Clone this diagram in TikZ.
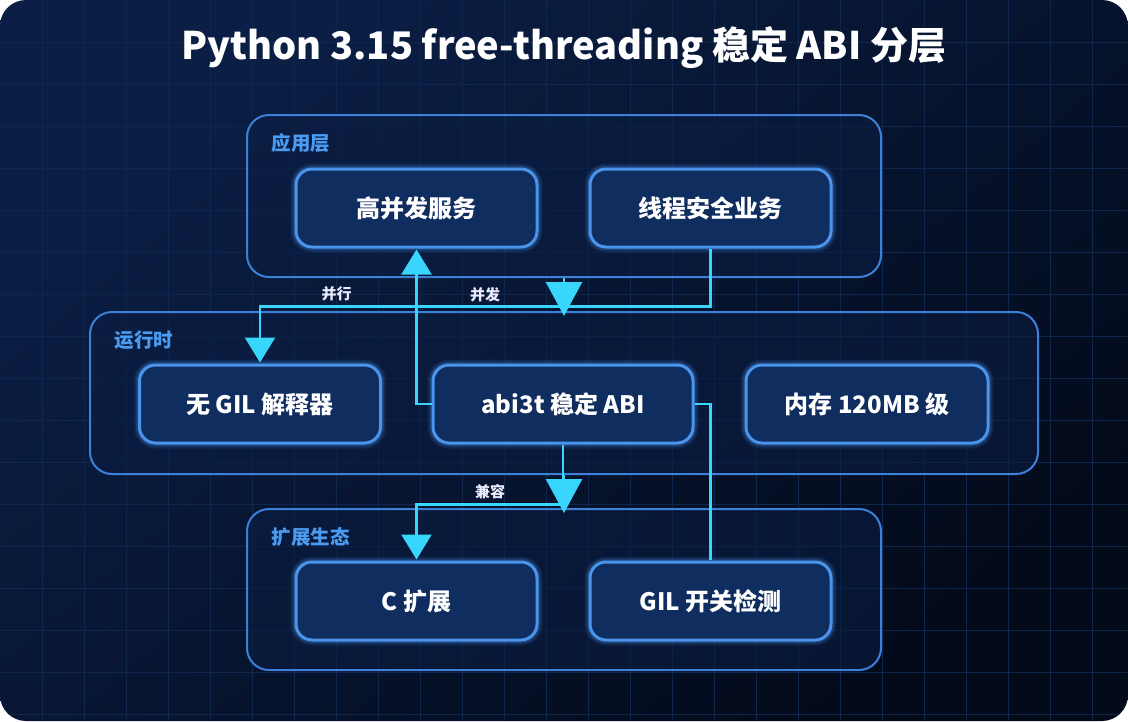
\documentclass[tikz,border=0pt]{standalone}
\usepackage{fontspec}
\usepackage{tikz}
\usetikzlibrary{positioning, arrows.meta}
\newfontfamily\cjk{Noto Sans CJK SC}

\definecolor{bgtop}{HTML}{0B1F46}
\definecolor{bgbot}{HTML}{030A1A}
\definecolor{gridc}{HTML}{10274D}
\definecolor{layerfill}{HTML}{0A1D42}
\definecolor{layerline}{HTML}{3D80D8}
\definecolor{layertext}{HTML}{4A9BF2}
\definecolor{boxfill}{HTML}{0F2D5E}
\definecolor{boxline}{HTML}{4A94EC}
\definecolor{wire}{HTML}{38D6FC}

\tikzset{
  layer/.style={draw=layerline, line width=2pt, fill=layerfill, fill opacity=0.6,
    rounded corners=22pt, minimum height=162pt, inner sep=0pt},
  lname/.style={anchor=west, text=layertext, font=\cjk\bfseries\fontsize{19.5}{22}\selectfont},
  box/.style={draw=boxline, line width=3pt, fill=boxfill, rounded corners=16pt,
    minimum width=241pt, minimum height=78pt, text=white,
    font=\cjk\bfseries\fontsize{24}{28}\selectfont,
    preaction={draw=boxline, line width=11pt, opacity=0.12},
    preaction={draw=boxline, line width=7pt, opacity=0.22}},
  wireline/.style={draw=wire, color=wire, line width=2.4pt},
  link/.style={wireline, -{Triangle[width=30pt, length=25pt]}},
  bigarrow/.style={wireline, shorten >=-5pt, -{Triangle[width=36pt, length=34pt]}},
  elabel/.style={text=white!92!blue, font=\cjk\bfseries\fontsize{15}{18}\selectfont, inner sep=2pt}
}

\begin{document}
\begin{tikzpicture}[x=1pt, y=-1pt, node distance=2cm, on grid, shorten >=1pt]
   \useasboundingbox (0,0) rectangle (1128,721);
   % background
   \fill[white] (0,0) rectangle (1128,721);
   \shade[rounded corners=26pt, top color=bgtop, bottom color=bgbot, shading angle=40]
     (0,0) rectangle (1128,721);
   \begin{scope}
     \clip[rounded corners=26pt] (0,0) rectangle (1128,721);
     \foreach \x in {42,84,...,1126} \draw[gridc, line width=0.8pt] (\x,0) -- (\x,721);
     \foreach \y in {42,84,...,720} \draw[gridc, line width=0.8pt] (0,\y) -- (1128,\y);
   \end{scope}

   \node[font=\cjk\bfseries\fontsize{38}{44}\selectfont, text=white] (title) at (564,48)
     {Python 3.15 free-threading 稳定 ABI 分层};

   % layers
   \node[layer, minimum width=634pt] (l_app) at (564,196) {};
   \node[layer, minimum width=948pt] (l_rt) at (564,393) {};
   \node[layer, minimum width=634pt, minimum height=161pt] (l_ext) at (564,589.5) {};
   \node[lname] (t_app) at (268,143) {应用层};
   \node[lname] (t_rt) at (111,340) {运行时};
   \node[lname] (t_ext) at (268,537) {扩展生态};

   % boxes
   \node[box] (svc) at (416.5,208) {高并发服务};
   \node[box] (safe) [right=294pt of svc] {线程安全业务};
   \node[box] (nogil) at (260,404) {无 GIL 解释器};
   \node[box, minimum width=260pt] (abi) [right=303pt of nogil] {abi3t 稳定 ABI};
   \node[box, minimum width=242pt] (mem) [right=304pt of abi] {内存 120MB 级};
   \node[box] (cext) [below=393pt of svc] {C 扩展};
   \node[box] (gilchk) [right=294pt of cext] {GIL 开关检测};

   % connectors
   \path[link]
    (safe.south) -- ++(0,58) -| node[elabel, pos=0.415, above=2pt] {并行} (nogil.north);
   \path[link] (abi.west) -| (svc.south);
   \path[wireline] (abi.east) -| (gilchk.north);
   \path[link] (abi.south) -- ++(0,60) -| (cext.north);
   \draw[bigarrow] (l_app.south) -- node[elabel, xshift=-79pt] {并发} (l_rt.north);
   \draw[bigarrow] (l_rt.south) -- node[elabel, xshift=-74pt] {兼容} (l_ext.north);
\end{tikzpicture}
\end{document}
